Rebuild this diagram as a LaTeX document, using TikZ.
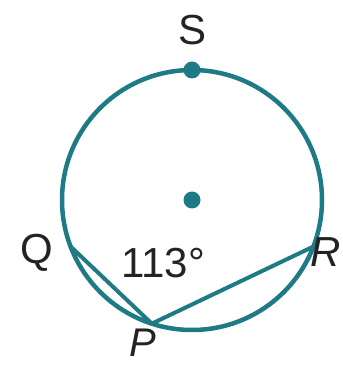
\documentclass[tikz,border=0pt]{standalone}
\usepackage{fontspec}
\setmainfont{Liberation Sans}
\usetikzlibrary{calc}
\definecolor{circteal}{RGB}{30,122,132}
\definecolor{labelgray}{RGB}{35,35,35}

\begin{document}
\begin{tikzpicture}[
        x=1pt, y=1pt,
        rim/.style={draw=circteal, line width=4.5pt},
        chord/.style={draw=circteal, line width=4pt, line join=round, line cap=round},
        ptdot/.style={circle, fill=circteal, inner sep=0pt, minimum size=17pt},
        ptlabel/.style={text=labelgray, font=\fontsize{42}{46}\selectfont, inner sep=0pt},
    ]
    \useasboundingbox (0,0) rectangle (342,366);

    % ===== Circle and points =====
    \coordinate (O) at (192,166);
    \draw[rim] (O) circle (130);
    \node[ptdot] (S) at ($(O)+(90:130)$) {};
    \node[ptdot] (CENTER) at (O) {};

    \coordinate (Q) at ($(O)+(201:130)$);
    \coordinate (P) at ($(O)+(252:130)$);
    \coordinate (R) at ($(O)+(339:130)$);

    % ===== Inscribed angle =====
    \draw[chord] (Q) -- (P) -- (R);

    % ===== Labels =====
    \node[ptlabel] (S_LABEL) at (193,336) {S};
    \node[ptlabel] (Q_LABEL) at (37,113) {Q};
    \node[ptlabel, font=\fontsize{42}{46}\selectfont\itshape] (R_LABEL) at (326,114) {R};
    \node[ptlabel, font=\fontsize{40}{44}\selectfont\itshape] (P_LABEL) at (143,23) {P};
    \node[ptlabel] (ANGLE) at (163,103) {113°};
\end{tikzpicture}
\end{document}
